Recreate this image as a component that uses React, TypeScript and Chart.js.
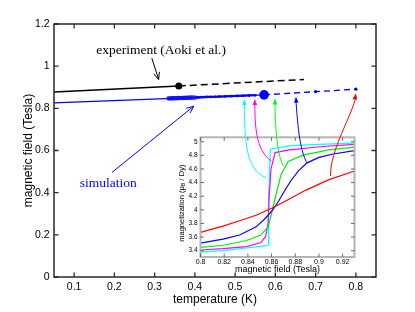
import React, { useEffect, useRef } from "react";
import { Chart, registerables } from "chart.js";
Chart.register(...registerables);

const W = 415;
const H = 312;
const SANS = "'Liberation Sans', Arial, Helvetica, sans-serif";
const SERIF = "'Liberation Serif', 'Times New Roman', serif";
const BLUE = "#0000ff";
const AXIS = "#2a2a2a";

// ---------- main chart data ----------
const xMin = 0.05;
const xMax = 0.85;
const yMin = 0;
const yMax = 1.2;
const xTicks = [0.1, 0.2, 0.3, 0.4, 0.5, 0.6, 0.7, 0.8];
const xTickLabels = ["0.1", "0.2", "0.3", "0.4", "0.5", "0.6", "0.7", "0.8"];
const yTicks = [0, 0.2, 0.4, 0.6, 0.8, 1, 1.2];
const yTickLabels = ["0", "0.2", "0.4", "0.6", "0.8", "1", "1.2"];

const expSolidT = [0.05, 0.36];
const expSolidB = [0.877, 0.906];
const expDashT = [0.36, 0.671];
const expDashB = [0.906, 0.937];

const simSolidT = [0.05, 0.572];
const simSolidB = [0.826, 0.864];
const simDenseT = [0.335, 0.339, 0.343, 0.347, 0.351, 0.355, 0.359, 0.363, 0.367, 0.371, 0.375, 0.379, 0.383, 0.387, 0.391, 0.395, 0.4, 0.405, 0.41, 0.416, 0.422, 0.43, 0.44, 0.45, 0.46, 0.475, 0.49, 0.505, 0.52, 0.535, 0.55];
const simDenseB = [0.847, 0.847, 0.847, 0.848, 0.848, 0.848, 0.849, 0.849, 0.849, 0.849, 0.85, 0.85, 0.85, 0.851, 0.851, 0.851, 0.851, 0.852, 0.852, 0.853, 0.853, 0.854, 0.854, 0.855, 0.856, 0.857, 0.858, 0.859, 0.86, 0.861, 0.862];
const simDashT = [0.572, 0.7, 0.8];
const simDashB = [0.864, 0.879, 0.891];

// annotation texts / arrows (main data coordinates)
const expLabel = "experiment (Aoki et al.)";
const expLabelAt = [0.316, 1.076];
const expArrow = [0.293, 1.038, 0.31, 0.937];
const simLabel = "simulation";
const simLabelAt = [0.185, 0.446];
const simArrow = [0.194, 0.496, 0.397, 0.81];

// ---------- inset data ----------
const inXMin = 0.8;
const inXMax = 0.93;
const inYMin = 3.3075;
const inYMax = 5.065;
const inXTicks = [0.8, 0.82, 0.84, 0.86, 0.88, 0.9, 0.92];
const inXTickLabels = ["0.8", "0.82", "0.84", "0.86", "0.88", "0.9", "0.92"];
const inYTicks = [3.4, 3.6, 3.8, 4, 4.2, 4.4, 4.6, 4.8, 5];
const inYTickLabels = ["3.4", "3.6", "3.8", "4", "4.2", "4.4", "4.6", "4.8", "5"];

const redField = [0.8, 0.819, 0.833, 0.847, 0.861, 0.875, 0.889, 0.908, 0.93];
const redMag = [3.67, 3.76, 3.84, 3.92, 4.03, 4.16, 4.29, 4.44, 4.57];
const blueField = [0.8, 0.819, 0.833, 0.847, 0.855, 0.861, 0.866, 0.871, 0.876, 0.883, 0.89, 0.9, 0.912, 0.93];
const blueMag = [3.51, 3.57, 3.63, 3.75, 3.88, 4.0, 4.13, 4.28, 4.42, 4.58, 4.69, 4.77, 4.82, 4.87];
const greenField = [0.8, 0.819, 0.839, 0.851, 0.857, 0.86, 0.864, 0.868, 0.874, 0.886, 0.908, 0.93];
const greenMag = [3.45, 3.48, 3.55, 3.63, 3.75, 3.95, 4.24, 4.52, 4.71, 4.8, 4.88, 4.92];
const magentaField = [0.8, 0.819, 0.839, 0.851, 0.855, 0.857, 0.858, 0.8595, 0.863, 0.875, 0.903, 0.93];
const magentaMag = [3.41, 3.43, 3.46, 3.52, 3.61, 3.8, 4.2, 4.6, 4.84, 4.88, 4.93, 4.96];
const cyanField = [0.8, 0.819, 0.839, 0.854, 0.857, 0.8575, 0.859, 0.875, 0.9, 0.93];
const cyanMag = [3.38, 3.4, 3.44, 3.47, 3.48, 4.2, 4.89, 4.94, 4.96, 4.98];

// arrows from inset curves (start & c1 in inset coords) to main plot (c2 & tip in main coords)
const insetArrowColors = ["#00ffff", "#ff00ff", "#00ff00", "#0000ff", "#ff0000"];
const insetArrowStart = [[0.8552, 4.474], [0.8598, 4.717], [0.8699, 4.643], [0.89, 4.687], [0.9098, 4.497]];
const insetArrowC1 = [[0.8381, 4.585], [0.8464, 4.878], [0.8649, 4.805], [0.8833, 4.878], [0.9092, 4.878]];
const insetArrowC2 = [[0.523, 0.649], [0.549, 0.721], [0.5995, 0.697], [0.6547, 0.744], [0.7915, 0.768]];
const insetArrowTip = [[0.523, 0.844], [0.549, 0.844], [0.599, 0.847], [0.651, 0.855], [0.8, 0.871]];

const pts = (xs: number[], ys: number[]) => xs.map((x, i) => ({ x, y: ys[i] }));

function arrowHead(ctx: CanvasRenderingContext2D, fx: number, fy: number, tx: number, ty: number, len: number, hw: number, filled: boolean) {
  const ang = Math.atan2(ty - fy, tx - fx);
  const bx = tx - len * Math.cos(ang);
  const by = ty - len * Math.sin(ang);
  const px = -Math.sin(ang) * hw;
  const py = Math.cos(ang) * hw;
  ctx.beginPath();
  if (filled) {
    ctx.moveTo(tx, ty);
    ctx.lineTo(bx + px, by + py);
    ctx.lineTo(bx - px, by - py);
    ctx.closePath();
    ctx.fill();
  } else {
    ctx.moveTo(bx + px, by + py);
    ctx.lineTo(tx, ty);
    ctx.lineTo(bx - px, by - py);
    ctx.stroke();
  }
}

// box + inward ticks positioned from the scales
function drawBox(ctx: CanvasRenderingContext2D, x: any, y: any, x0: number, x1: number, y0: number, y1: number,
  xt: number[], yt: number[], color: string, lw: number, tickColor: string, tick: number, tickW: number) {
  const L = x.getPixelForValue(x0), R = x.getPixelForValue(x1);
  const B = y.getPixelForValue(y0), T = y.getPixelForValue(y1);
  ctx.save();
  ctx.setLineDash([]);
  ctx.strokeStyle = color;
  ctx.lineWidth = lw;
  ctx.strokeRect(L, T, R - L, B - T);
  ctx.strokeStyle = tickColor;
  ctx.lineWidth = tickW;
  ctx.beginPath();
  for (const v of xt) {
    const px = x.getPixelForValue(v);
    ctx.moveTo(px, B); ctx.lineTo(px, B - tick);
    ctx.moveTo(px, T); ctx.lineTo(px, T + tick);
  }
  for (const v of yt) {
    const py = y.getPixelForValue(v);
    ctx.moveTo(L, py); ctx.lineTo(L + tick, py);
    ctx.moveTo(R, py); ctx.lineTo(R - tick, py);
  }
  ctx.stroke();
  ctx.restore();
}

const mainPlugin = {
  id: "mainDecor",
  afterDatasetsDraw(chart: any) {
    const ctx = chart.ctx as CanvasRenderingContext2D;
    const x = chart.scales.x;
    const y = chart.scales.y;
    drawBox(ctx, x, y, xMin, xMax, yMin, yMax, xTicks, yTicks, AXIS, 1.5, AXIS, 4.5, 1.3);
    ctx.save();
    ctx.setLineDash([]);
    ctx.textAlign = "center";
    ctx.textBaseline = "middle";
    ctx.font = `13.5px ${SERIF}`;
    ctx.fillStyle = "#000";
    ctx.fillText(expLabel, x.getPixelForValue(expLabelAt[0]), y.getPixelForValue(expLabelAt[1]));
    ctx.fillStyle = BLUE;
    ctx.fillText(simLabel, x.getPixelForValue(simLabelAt[0]), y.getPixelForValue(simLabelAt[1]));

    const drawStraight = (arr: number[], color: string) => {
      const x1 = x.getPixelForValue(arr[0]), y1 = y.getPixelForValue(arr[1]);
      const x2 = x.getPixelForValue(arr[2]), y2 = y.getPixelForValue(arr[3]);
      ctx.strokeStyle = color;
      ctx.lineWidth = 1;
      ctx.beginPath();
      ctx.moveTo(x1, y1); ctx.lineTo(x2, y2);
      ctx.stroke();
      arrowHead(ctx, x1, y1, x2, y2, 7, 3, false);
    };
    drawStraight(expArrow, "#000");
    drawStraight(simArrow, BLUE);
    ctx.restore();
  },
};

function makeInsetPlugin(main: Chart) {
  return {
    id: "insetDecor",
    beforeDatasetsDraw(chart: any) {
      const ctx = chart.ctx as CanvasRenderingContext2D;
      const x = chart.scales.x;
      const y = chart.scales.y;
      const L = x.getPixelForValue(inXMin), R = x.getPixelForValue(inXMax);
      const T = y.getPixelForValue(inYMax), B = y.getPixelForValue(inYMin);
      ctx.save();
      ctx.fillStyle = "#ffffff";
      ctx.fillRect(L, T, R - L, B - T);
      ctx.restore();
    },
    afterDatasetsDraw(chart: any) {
      const ctx = chart.ctx as CanvasRenderingContext2D;
      const x = chart.scales.x;
      const y = chart.scales.y;
      const mx = (main as any).scales.x;
      const my = (main as any).scales.y;
      drawBox(ctx, x, y, inXMin, inXMax, inYMin, inYMax, inXTicks, inYTicks, "#b4b4b4", 2, "#6a6a6a", 3.5, 1);

      // y title with subscript
      const L0 = x.getPixelForValue(inXMin);
      const midY = (y.getPixelForValue(inYMin) + y.getPixelForValue(inYMax)) / 2;
      ctx.save();
      const parts: [string, number, number][] = [["magnetization (\u03bc", 7.5, 0], ["B", 5.5, 2.2], [" / Dy)", 7.5, 0]];
      let total = 0;
      for (const p of parts) { ctx.font = `${p[1]}px ${SANS}`; total += ctx.measureText(p[0]).width; }
      ctx.translate(L0 - 19, midY + 6);
      ctx.rotate(-Math.PI / 2);
      ctx.fillStyle = "#000";
      ctx.textBaseline = "middle";
      ctx.textAlign = "left";
      let xx = -total / 2;
      for (const p of parts) {
        ctx.font = `${p[1]}px ${SANS}`;
        ctx.fillText(p[0], xx, p[2]);
        xx += ctx.measureText(p[0]).width;
      }
      ctx.restore();

      // arrows from inset to main
      ctx.save();
      ctx.setLineDash([]);
      ctx.lineWidth = 1;
      insetArrowColors.forEach((c, i) => {
        const sx = x.getPixelForValue(insetArrowStart[i][0]), sy = y.getPixelForValue(insetArrowStart[i][1]);
        const c1x = x.getPixelForValue(insetArrowC1[i][0]), c1y = y.getPixelForValue(insetArrowC1[i][1]);
        const c2x = mx.getPixelForValue(insetArrowC2[i][0]), c2y = my.getPixelForValue(insetArrowC2[i][1]);
        const tx = mx.getPixelForValue(insetArrowTip[i][0]), ty = my.getPixelForValue(insetArrowTip[i][1]);
        ctx.strokeStyle = c;
        ctx.fillStyle = c;
        ctx.beginPath();
        ctx.moveTo(sx, sy);
        ctx.bezierCurveTo(c1x, c1y, c2x, c2y, tx, ty + 3);
        ctx.stroke();
        arrowHead(ctx, c2x, c2y, tx, ty, 6, 2.3, true);
      });
      ctx.restore();
    },
  };
}

export default function App() {
  const mainRef = useRef<HTMLCanvasElement>(null);
  const insetRef = useRef<HTMLCanvasElement>(null);

  useEffect(() => {
    const main = new Chart(mainRef.current as HTMLCanvasElement, {
      type: "scatter",
      data: {
        datasets: [
          {
            data: pts(expSolidT, expSolidB), showLine: true, borderColor: "#000", backgroundColor: "#000",
            borderWidth: 1.5, pointRadius: (c: any) => (c.dataIndex === 1 ? 3.5 : 0), pointBorderWidth: 0,
          },
          {
            data: pts(expDashT, expDashB), showLine: true, borderColor: "#000", borderWidth: 1.5,
            borderDash: [7, 4], pointRadius: 0,
          },
          {
            data: pts(simSolidT, simSolidB), showLine: true, borderColor: BLUE, backgroundColor: BLUE,
            borderWidth: 1.4, pointRadius: (c: any) => (c.dataIndex === 1 ? 4.8 : 0), pointBorderWidth: 0,
          },
          {
            data: pts(simDenseT, simDenseB), showLine: true, borderColor: BLUE, borderWidth: 2.2,
            pointStyle: "rect", pointRadius: (c: any) => (c.raw && c.raw.x <= 0.4 ? 2.2 : 1.2),
            pointBackgroundColor: "#5a5aff", pointBorderColor: BLUE, pointBorderWidth: 0.8,
          },
          {
            data: pts(simDashT, simDashB), showLine: true, borderColor: BLUE, backgroundColor: BLUE,
            borderWidth: 1.3, borderDash: [6, 4], pointRadius: (c: any) => (c.dataIndex === 0 ? 0 : 1.6),
            pointBorderWidth: 0,
          },
        ],
      },
      options: {
        responsive: false,
        animation: false,
        layout: { padding: { left: 0, top: 24, right: 39, bottom: 0 } },
        plugins: { legend: { display: false }, tooltip: { enabled: false } },
        scales: {
          x: {
            type: "linear", min: xMin, max: xMax,
            grid: { display: false, drawTicks: false }, border: { display: false },
            afterBuildTicks: (s: any) => { s.ticks = xTicks.map((v) => ({ value: v })); },
            afterFit: (s: any) => { s.height = 35; },
            ticks: {
              font: { family: SANS, size: 10.5 }, color: "#000", padding: 3.5, maxRotation: 0, autoSkip: false,
              callback: (_v: any, i: number) => xTickLabels[i],
            },
            title: { display: true, text: "temperature (K)", font: { family: SANS, size: 12 }, color: "#000", padding: { top: 0, bottom: 5.5 } },
          },
          y: {
            type: "linear", min: yMin, max: yMax,
            grid: { display: false, drawTicks: false }, border: { display: false },
            afterBuildTicks: (s: any) => { s.ticks = yTicks.map((v) => ({ value: v })); },
            afterFit: (s: any) => { s.width = 54; },
            ticks: {
              font: { family: SANS, size: 10.5 }, color: "#000", padding: 4.5, autoSkip: false,
              callback: (_v: any, i: number) => yTickLabels[i],
            },
            title: { display: true, text: "magnetic field (Tesla)", font: { family: SANS, size: 12 }, color: "#000", padding: { top: 21.8, bottom: 0 } },
          },
        },
      } as any,
      plugins: [mainPlugin],
    } as any);

    const lineDs = (xs: number[], ys: number[], color: string) => ({
      data: pts(xs, ys), showLine: true, borderColor: color, borderWidth: 1.2, pointRadius: 0,
    });

    const inset = new Chart(insetRef.current as HTMLCanvasElement, {
      type: "scatter",
      data: {
        datasets: [
          lineDs(redField, redMag, "#ff0000"),
          lineDs(blueField, blueMag, "#0000ff"),
          lineDs(greenField, greenMag, "#00ee00"),
          lineDs(magentaField, magentaMag, "#ff00ff"),
          lineDs(cyanField, cyanMag, "#00ffff"),
        ],
      },
      options: {
        responsive: false,
        animation: false,
        layout: { padding: { left: 170.5, top: 137.3, right: 60.5, bottom: 35 } },
        plugins: { legend: { display: false }, tooltip: { enabled: false } },
        scales: {
          x: {
            type: "linear", min: inXMin, max: inXMax,
            grid: { display: false, drawTicks: false }, border: { display: false },
            afterBuildTicks: (s: any) => { s.ticks = inXTicks.map((v) => ({ value: v })); },
            afterFit: (s: any) => { s.height = 20; },
            ticks: {
              font: { family: SANS, size: 7 }, color: "#000", padding: 1, maxRotation: 0, autoSkip: false,
              callback: (_v: any, i: number) => inXTickLabels[i],
            },
            title: { display: true, text: "magnetic field (Tesla)", font: { family: SANS, size: 9 }, color: "#000", padding: { top: 0, bottom: 1.6 } },
          },
          y: {
            type: "linear", min: inYMin, max: inYMax,
            grid: { display: false, drawTicks: false }, border: { display: false },
            afterBuildTicks: (s: any) => { s.ticks = inYTicks.map((v) => ({ value: v })); },
            afterFit: (s: any) => { s.width = 30; },
            ticks: {
              font: { family: SANS, size: 6.5 }, color: "#000", padding: 3, autoSkip: false,
              callback: (_v: any, i: number) => inYTickLabels[i],
            },
          },
        },
      } as any,
      plugins: [makeInsetPlugin(main)],
    } as any);

    return () => {
      inset.destroy();
      main.destroy();
    };
  }, []);

  return (
    <div style={{ position: "absolute", left: 0, top: 0, width: W, height: H, background: "#fff" }}>
      <canvas ref={mainRef} width={W} height={H} style={{ position: "absolute", left: 0, top: 0, width: W, height: H }} />
      <canvas ref={insetRef} width={W} height={H} style={{ position: "absolute", left: 0, top: 0, width: W, height: H }} />
    </div>
  );
}
